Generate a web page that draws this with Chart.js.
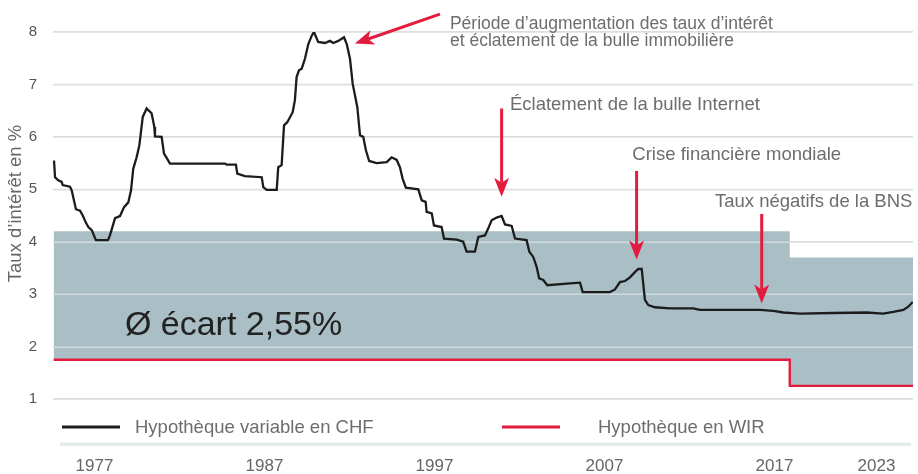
<!DOCTYPE html>
<html lang="fr">
<head>
<meta charset="utf-8">
<title>Hypothèque variable en CHF et hypothèque en WIR</title>
<script src="https://cdn.jsdelivr.net/npm/chart.js@4"></script>
<style>
  html, body { margin: 0; padding: 0; background: #fff; }
  #wrap { width: 918px; height: 474px; position: relative; }
</style>
</head>
<body>
<div id="wrap"><canvas id="rates"></canvas></div>
<script>
// Hypothèque variable en CHF
const chfYears = [
    1974.62, 1974.68, 1974.87, 1975.07, 1975.13, 1975.56, 1975.66, 1975.79, 1975.91, 1976.15,
    1976.31, 1976.50, 1976.64, 1976.84, 1977.03, 1977.09, 1977.79, 1977.91, 1978.21, 1978.50,
    1978.74, 1978.99, 1979.15, 1979.28, 1979.48, 1979.64, 1979.84, 1980.07, 1980.36, 1980.52,
    1980.56, 1980.95, 1981.09, 1981.28, 1981.44, 1984.68, 1984.78, 1985.32, 1985.40, 1985.85,
    1986.84, 1986.93, 1987.13, 1987.72, 1987.81, 1988.01, 1988.15, 1988.34, 1988.66, 1988.79,
    1988.89, 1989.03, 1989.19, 1989.38, 1989.58, 1989.78, 1989.91, 1990.16, 1990.56, 1990.85,
    1991.05, 1991.34, 1991.68, 1991.84, 1992.03, 1992.19, 1992.46, 1992.62, 1992.81, 1992.97,
    1993.16, 1993.60, 1994.19, 1994.48, 1994.78, 1994.97, 1995.13, 1995.32, 1996.05, 1996.25,
    1996.48, 1996.54, 1996.84, 1996.97, 1997.42, 1997.56, 1998.31, 1998.69, 1998.89, 1999.38,
    1999.58, 1999.97, 2000.16, 2000.36, 2000.66, 2000.95, 2001.15, 2001.54, 2001.74, 2002.42,
    2002.58, 2002.81, 2003.01, 2003.16, 2003.40, 2003.64, 2004.78, 2005.56, 2005.72, 2007.32,
    2007.62, 2007.91, 2008.21, 2008.50, 2008.79, 2008.99, 2009.19, 2009.38, 2009.58, 2009.97,
    2010.85, 2012.22, 2012.62, 2016.15, 2016.93, 2017.52, 2018.50, 2020.46, 2022.42, 2023.40,
    2023.99, 2024.58, 2024.87, 2025.13
];
const chfRates = [
    5.55, 5.23, 5.17, 5.14, 5.08, 5.05, 4.98, 4.79, 4.62, 4.59,
    4.50, 4.36, 4.28, 4.22, 4.07, 4.03, 4.03, 4.12, 4.45, 4.49,
    4.66, 4.75, 4.98, 5.39, 5.61, 5.84, 6.38, 6.54, 6.45, 6.19,
    6.01, 6.00, 5.68, 5.58, 5.49, 5.49, 5.47, 5.47, 5.30, 5.25,
    5.23, 5.04, 4.99, 4.99, 5.42, 5.46, 6.22, 6.28, 6.47, 6.70,
    7.14, 7.27, 7.30, 7.49, 7.77, 7.93, 8.00, 7.81, 7.79, 7.83,
    7.79, 7.83, 7.90, 7.77, 7.49, 7.01, 6.57, 6.03, 6.00, 5.74,
    5.54, 5.50, 5.52, 5.61, 5.56, 5.42, 5.20, 5.03, 5.00, 4.79,
    4.76, 4.57, 4.54, 4.31, 4.28, 4.06, 4.04, 4.00, 3.81, 3.81,
    4.09, 4.12, 4.25, 4.41, 4.46, 4.49, 4.33, 4.30, 4.06, 4.03,
    3.81, 3.71, 3.52, 3.30, 3.27, 3.17, 3.20, 3.22, 3.04, 3.04,
    3.09, 3.23, 3.25, 3.32, 3.42, 3.48, 3.48, 2.89, 2.79, 2.75,
    2.73, 2.73, 2.70, 2.70, 2.68, 2.65, 2.63, 2.64, 2.65, 2.63,
    2.66, 2.70, 2.76, 2.85
];

// Hypothèque en WIR (taux en escalier)
const wirYears = [1974.6, 2017.9, 2025.15];
const wirRates = [1.75, 1.25, 1.25];

// limite haute de la zone d'écart (remplie jusqu'à la ligne WIR)
const bandYears = [1974.6, 2017.9, 2025.15];
const bandTop   = [4.2, 3.7, 3.7];

const xTickYears = [1977, 1987, 1997, 2007, 2017, 2023];
const yTickValues = [1, 2, 3, 4, 5, 6, 7, 8];
const yTitle = 'Taux d’intérêt en %';

// annotations: texte + flèche, en coordonnées (année, taux)
const notes = [
    { lines: ['Période d’augmentation des taux d’intérêt', 'et éclatement de la bulle immobilière'],
      size: 17.5, at: [1997.91, 8.06], from: [1997.32, 8.34], to: [1992.32, 7.78] },
    { lines: ['Éclatement de la bulle Internet'],
      size: 18.5, at: [2001.44, 6.51], from: [2000.95, 6.54], to: [2000.95, 4.86] },
    { lines: ['Crise financière mondiale'],
      size: 18.5, at: [2008.64, 5.55], from: [2008.89, 5.35], to: [2008.89, 3.66] },
    { lines: ['Taux négatifs de la BNS'],
      size: 18.5, at: [2013.5, 4.66], from: [2016.25, 4.53], to: [2016.25, 2.82] }
];
const spreadLabel = { text: 'Ø écart 2,55%', at: [1978.79, 2.22] };

const FONT = '"Liberation Sans", Arial, Helvetica, sans-serif';
const RED = '#e31c3d';

function toXY(list) {
    return list[0].map((x, i) => ({ x: x, y: list[1][i] }));
}

// grille horizontale redessinée par-dessus la zone grise
const gridOverFill = {
    id: 'gridOverFill',
    afterDatasetDraw(chart, args) {
        if (args.index !== 2) return;
        const { ctx, chartArea } = chart;
        const y = chart.scales.y;
        ctx.save();
        ctx.strokeStyle = 'rgba(226,229,230,0.7)';
        ctx.lineWidth = 1.5;
        yTickValues.forEach(v => {
            const py = Math.round(y.getPixelForValue(v)) + 0.25;
            ctx.beginPath();
            ctx.moveTo(chartArea.left, py);
            ctx.lineTo(chartArea.right, py);
            ctx.stroke();
        });
        ctx.restore();
    }
};

function arrow(ctx, x1, y1, x2, y2) {
    const ang = Math.atan2(y2 - y1, x2 - x1);
    const headLen = 19, half = 7.5, notch = 5;
    const bx = x2 - Math.cos(ang) * (headLen - notch);
    const by = y2 - Math.sin(ang) * (headLen - notch);
    ctx.beginPath();
    ctx.moveTo(x1, y1);
    ctx.lineTo(bx, by);
    ctx.stroke();
    const cx = x2 - Math.cos(ang) * headLen;
    const cy = y2 - Math.sin(ang) * headLen;
    const px = -Math.sin(ang) * half, py = Math.cos(ang) * half;
    ctx.beginPath();
    ctx.moveTo(x2, y2);
    ctx.lineTo(cx + px, cy + py);
    ctx.lineTo(bx, by);
    ctx.lineTo(cx - px, cy - py);
    ctx.closePath();
    ctx.fill();
}

const annotations = {
    id: 'annotations',
    afterDatasetsDraw(chart) {
        const { ctx } = chart;
        const xs = chart.scales.x, ys = chart.scales.y;
        ctx.save();
        ctx.textBaseline = 'alphabetic';
        ctx.textAlign = 'left';
        notes.forEach(n => {
            ctx.font = n.size + 'px ' + FONT;
            ctx.fillStyle = '#6d6d6d';
            const tx = xs.getPixelForValue(n.at[0]);
            const ty = ys.getPixelForValue(n.at[1]);
            n.lines.forEach((l, i) => ctx.fillText(l, tx, ty + i * 16.8));
            ctx.strokeStyle = RED;
            ctx.fillStyle = RED;
            ctx.lineWidth = 3;
            arrow(ctx,
                xs.getPixelForValue(n.from[0]), ys.getPixelForValue(n.from[1]),
                xs.getPixelForValue(n.to[0]), ys.getPixelForValue(n.to[1]));
        });
        ctx.font = '34px ' + FONT;
        ctx.fillStyle = '#222';
        ctx.fillText(spreadLabel.text,
            xs.getPixelForValue(spreadLabel.at[0]), ys.getPixelForValue(spreadLabel.at[1]));

        // titre de l'axe vertical
        ctx.translate(15.5, 203.5);
        ctx.rotate(-Math.PI / 2);
        ctx.font = '18.5px ' + FONT;
        ctx.fillStyle = '#666';
        ctx.textAlign = 'center';
        ctx.textBaseline = 'middle';
        ctx.fillText(yTitle, 0, 0);
        ctx.restore();
    }
};

// légende entre la zone du graphique et les années
const bottomLegend = {
    id: 'bottomLegend',
    afterDraw(chart) {
        const { ctx, chartArea } = chart;
        const ly = chartArea.bottom + 28;
        const items = [
            { ds: chart.data.datasets[0], x0: 62, x1: 120, tx: 135 },
            { ds: chart.data.datasets[1], x0: 502, x1: 560, tx: 598 }
        ];
        ctx.save();
        items.forEach(it => {
            ctx.strokeStyle = it.ds.borderColor;
            ctx.lineWidth = 3;
            ctx.beginPath();
            ctx.moveTo(it.x0, ly);
            ctx.lineTo(it.x1, ly);
            ctx.stroke();
            ctx.fillStyle = '#6d6d6d';
            ctx.font = '18.5px ' + FONT;
            ctx.textBaseline = 'middle';
            ctx.fillText(it.ds.label, it.tx, ly + 1);
        });
        ctx.fillStyle = '#e5ecee';
        ctx.fillRect(60, chartArea.bottom + 43.5, 851, 3.5);
        ctx.restore();
    }
};

new Chart(document.getElementById('rates'), {
    type: 'line',
    data: {
        datasets: [
            {
                label: 'Hypothèque variable en CHF',
                data: toXY([chfYears, chfRates]),
                borderColor: '#1c1c1c',
                borderWidth: 2.3,
                pointRadius: 0,
                tension: 0,
                fill: false
            },
            {
                label: 'Hypothèque en WIR',
                data: toXY([wirYears, wirRates]),
                borderColor: RED,
                borderWidth: 2.4,
                pointRadius: 0,
                stepped: true,
                fill: false
            },
            {
                label: 'Ø écart',
                data: toXY([bandYears, bandTop]),
                borderWidth: 0,
                borderColor: 'rgba(0,0,0,0)',
                backgroundColor: '#a9bfc5',
                pointRadius: 0,
                stepped: true,
                fill: 1
            }
        ]
    },
    options: {
        responsive: true,
        maintainAspectRatio: false,
        animation: false,
        events: [],
        layout: { padding: { top: 32, right: 5, bottom: 0, left: 0 } },
        plugins: {
            legend: { display: false },
            tooltip: { enabled: false }
        },
        scales: {
            x: {
                type: 'linear',
                min: 1974.56,
                max: 2025.15,
                afterBuildTicks: s => { s.ticks = xTickYears.map(v => ({ value: v })); },
                afterFit: s => { s.height = 75; s.paddingLeft = 0; s.paddingRight = 0; },
                grid: { display: false, drawTicks: false },
                border: { display: false },
                ticks: {
                    padding: 57,
                    color: '#666',
                    font: { family: FONT, size: 17 },
                    callback: v => String(v),
                    maxRotation: 0,
                    autoSkip: false
                }
            },
            y: {
                min: 1,
                max: 8,
                afterBuildTicks: s => { s.ticks = yTickValues.map(v => ({ value: v })); },
                afterFit: s => { s.width = 53; },
                grid: { color: '#d9d9d9', lineWidth: 1.5, drawTicks: false },
                border: { display: false },
                ticks: {
                    padding: 16,
                    color: '#555',
                    font: { family: FONT, size: 15 }
                }
            }
        }
    },
    plugins: [gridOverFill, annotations, bottomLegend]
});
</script>
</body>
</html>
